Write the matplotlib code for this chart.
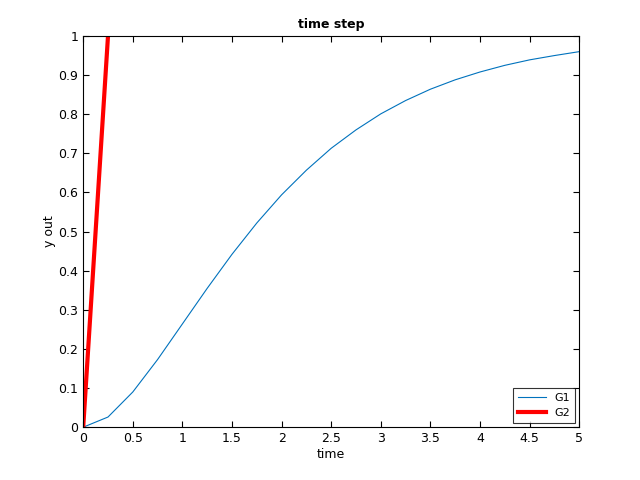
import matplotlib
matplotlib.use("Agg")
import matplotlib.pyplot as plt

t1 = [0, 0.25, 0.5, 0.75, 1, 1.25, 1.5, 1.75, 2, 2.25, 2.5, 2.75, 3,
      3.25, 3.5, 3.75, 4, 4.25, 4.5, 4.75, 5]
g1 = [0, 0.026, 0.090, 0.173, 0.264, 0.355, 0.442, 0.522, 0.594, 0.657,
      0.713, 0.760, 0.801, 0.835, 0.864, 0.888, 0.908, 0.925, 0.939, 0.950, 0.960]
t2 = [0, 0.5]
g2 = [0, 2.0]

plt.rcParams['font.size'] = 9
fig = plt.figure(figsize=(6.4, 4.8), dpi=100)
ax = fig.add_axes([0.13, 0.11, 0.775, 0.815])
ax.plot(t1, g1, color='#0072bd', lw=0.8, label='G1')
ax.plot(t2, g2, color='red', lw=3, label='G2')
ax.set_xlim(0, 5)
ax.set_ylim(0, 1)
ax.set_xticks([0, 0.5, 1, 1.5, 2, 2.5, 3, 3.5, 4, 4.5, 5])
ax.set_xticklabels(['0', '0.5', '1', '1.5', '2', '2.5', '3', '3.5', '4', '4.5', '5'])
ax.set_yticks([i / 10 for i in range(11)])
ax.set_yticklabels(['0', '0.1', '0.2', '0.3', '0.4', '0.5', '0.6', '0.7', '0.8', '0.9', '1'])
ax.tick_params(direction='in', top=True, right=True, length=4)
ax.set_xlabel('time', labelpad=2)
ax.set_ylabel('y out', labelpad=2)
ax.set_title('time step', fontweight='bold', fontsize=9)
leg = ax.legend(loc='lower right', fancybox=False, edgecolor='black', fontsize=8,
                handlelength=2.5, borderaxespad=0.4)
leg.get_frame().set_linewidth(0.8)
fig.savefig('out.png')
